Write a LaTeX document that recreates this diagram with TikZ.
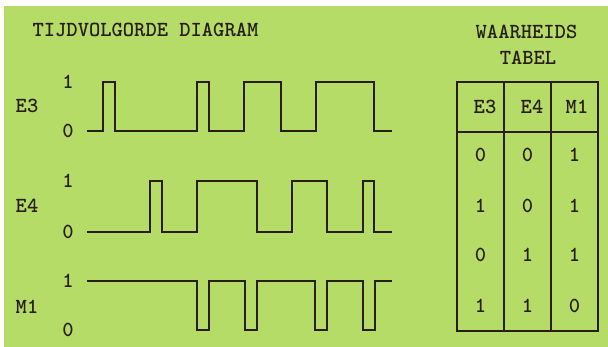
\documentclass[tikz,border=0pt]{standalone}
\definecolor{bg}{RGB}{182,220,104}
\definecolor{ink}{RGB}{40,30,22}
\begin{document}
\begin{tikzpicture}[x=1pt,y=1pt,
  wave/.style={draw=ink, line width=1.5pt, line join=miter},
  grid/.style={draw=ink, line width=1.5pt},
  lbl/.style={text=ink, font=\fontsize{21.5}{23}\selectfont\ttfamily\bfseries, inner sep=0pt, anchor=center}]
\useasboundingbox (0,0) rectangle (608,347);
\fill[white] (0,0) rectangle (608,347);
\fill[bg] (4,0) rectangle (608,341);

% titles
\node[lbl] (title) at (145.5,317) {TIJDVOLGORDE DIAGRAM};
\node[lbl] (tt1) at (526.5,315) {WAARHEIDS};
\node[lbl] (tt2) at (528,289) {TABEL};

% signal labels
\node[lbl] (lE3) at (27,241) {E3};
\node[lbl] (hE3) at (68,265) {1};
\node[lbl] (zE3) at (68,216) {0};
\node[lbl] (lE4) at (27,141) {E4};
\node[lbl] (hE4) at (68,166) {1};
\node[lbl] (zE4) at (68,115) {0};
\node[lbl] (lM1) at (27,40) {M1};
\node[lbl] (hM1) at (68,66) {1};
\node[lbl] (zM1) at (68,17) {0};

% waveforms
\draw[wave] (87,216) -- (103,216) -- (103,265) -- (115,265) -- (115,216) -- (197,216) -- (197,265) -- (209,265) -- (209,216) -- (244,216) -- (244,265) -- (281,265) -- (281,216) -- (316,216) -- (316,265) -- (374,265) -- (374,216) -- (392,216);
\draw[wave] (87,115) -- (150,115) -- (150,166) -- (162,166) -- (162,115) -- (197,115) -- (197,166) -- (257,166) -- (257,115) -- (292,115) -- (292,166) -- (327,166) -- (327,115) -- (363,115) -- (363,166) -- (374,166) -- (374,115) -- (392,115);
\draw[wave] (87,66) -- (197,66) -- (197,17) -- (209,17) -- (209,66) -- (245,66) -- (245,17) -- (257,17) -- (257,66) -- (315,66) -- (315,17) -- (327,17) -- (327,66) -- (363,66) -- (363,17) -- (375,17) -- (375,66) -- (392,66);

% table
\draw[grid] (457,265) rectangle (598,16);
\draw[grid] (457,215) -- (598,215);
\draw[grid] (504,265) -- (504,16);
\draw[grid] (551,265) -- (551,16);

\node[lbl] (hA) at (485,240) {E3};
\node[lbl] (hB) at (532,240) {E4};
\node[lbl] (hC) at (577,240) {M1};

\node[lbl] (a1) at (480.5,192) {0};
\node[lbl] (b1) at (527.5,192) {0};
\node[lbl] (c1) at (574.5,192) {1};
\node[lbl] (a2) at (480.5,141) {1};
\node[lbl] (b2) at (527.5,141) {0};
\node[lbl] (c2) at (574.5,141) {1};
\node[lbl] (a3) at (480.5,92) {0};
\node[lbl] (b3) at (527.5,92) {1};
\node[lbl] (c3) at (574.5,92) {1};
\node[lbl] (a4) at (480.5,41) {1};
\node[lbl] (b4) at (527.5,41) {1};
\node[lbl] (c4) at (574.5,41) {0};
\end{tikzpicture}
\end{document}
